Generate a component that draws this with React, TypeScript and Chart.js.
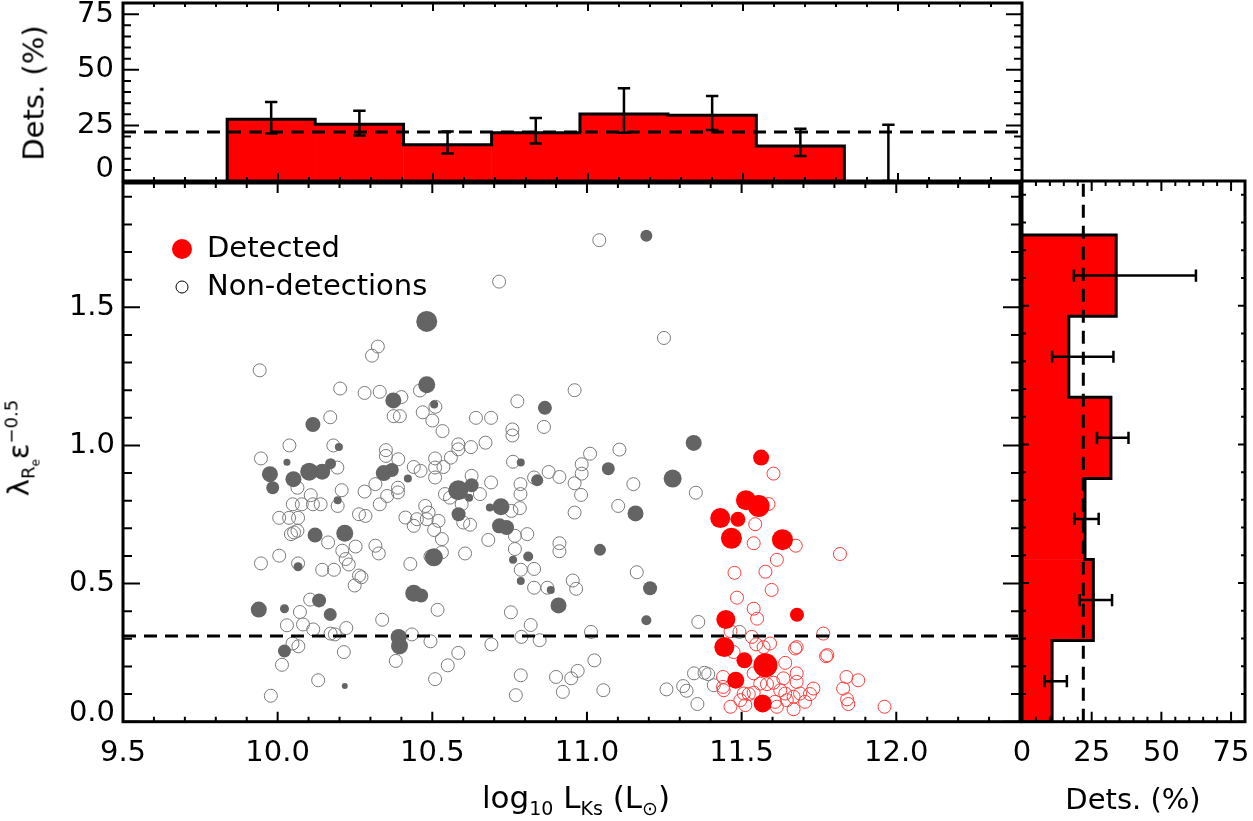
import React, { useEffect, useRef } from "react";
import { Chart, registerables } from "chart.js";

Chart.register(...registerables);

// ---------------- data ----------------
const lumRange = [9.5, 12.4];
const lambdaRange = [0, 1.95];
const pctRange = [0, 80];
const lumTicks = [9.5, 10.0, 10.5, 11.0, 11.5, 12.0];
const lambdaTicks = [0.0, 0.5, 1.0, 1.5];
const pctTicks = [0, 25, 50, 75];
const fastSlowDivide = 0.31;
const overallDetRate = 22;

// [log10 L_Ks, lambda_Re * eps^-0.5]
const nondetA3D: number[][] = [
  [10.716, 1.593], [11.04, 1.743], [10.324, 1.358], [10.305, 1.325], [9.942, 1.272], [10.202, 1.206],
  [10.281, 1.19], [10.33, 1.194], [10.4, 1.175], [10.46, 1.199], [10.51, 1.14], [10.469, 1.12],
  [10.375, 1.106], [10.395, 1.106], [10.5, 1.09], [10.533, 1.052], [10.17, 1.102], [10.038, 1.0],
  [10.18, 1.0], [9.946, 0.953], [10.193, 0.92], [10.207, 0.838], [10.064, 0.847], [10.107, 0.82],
  [10.049, 0.787], [10.078, 0.787], [10.114, 0.787], [10.139, 0.787], [10.005, 0.738], [10.037, 0.738],
  [10.066, 0.738], [10.194, 0.781], [10.281, 0.833], [10.316, 0.86], [10.33, 0.787], [10.354, 0.817],
  [10.35, 0.983], [10.35, 0.962], [10.39, 0.95], [10.389, 0.847], [10.389, 0.83], [10.44, 0.922],
  [10.462, 0.908], [10.509, 0.953], [10.509, 0.92], [10.509, 0.884], [10.536, 0.922], [10.56, 0.956],
  [10.584, 1.004], [10.584, 0.986], [10.625, 0.994], [10.672, 1.01], [10.641, 1.1], [10.69, 1.1],
  [10.775, 1.16], [10.759, 1.058], [10.759, 1.036], [10.861, 1.067], [10.96, 1.2], [11.01, 0.97],
  [10.983, 0.932], [10.983, 0.898], [10.96, 0.863], [10.981, 0.821], [10.96, 0.757], [10.911, 0.886],
  [10.876, 0.904], [10.761, 0.941], [10.829, 0.884], [10.785, 0.86], [10.785, 0.824], [10.69, 0.866],
  [10.654, 0.824], [10.541, 0.824], [10.557, 0.811], [10.595, 0.787], [10.627, 0.89], [10.756, 0.763],
  [10.783, 0.773], [10.477, 0.781], [10.488, 0.757], [10.45, 0.733], [10.482, 0.733], [10.263, 0.751],
  [10.284, 0.745], [10.413, 0.739], [10.043, 0.679], [10.053, 0.685], [10.064, 0.691], [10.163, 0.649],
  [9.946, 0.573], [10.005, 0.601], [10.066, 0.573], [10.144, 0.55], [10.182, 0.55], [10.209, 0.619],
  [10.22, 0.589], [10.23, 0.569], [10.252, 0.634], [10.263, 0.529], [10.271, 0.523], [10.249, 0.493],
  [10.316, 0.637], [10.327, 0.609], [10.44, 0.709], [10.506, 0.694], [10.52, 0.727], [10.531, 0.661],
  [10.429, 0.571], [10.494, 0.598], [10.531, 0.613], [10.606, 0.609], [10.6, 0.721], [10.622, 0.713],
  [10.681, 0.658], [10.767, 0.673], [10.767, 0.625], [10.807, 0.679], [10.786, 0.55], [10.829, 0.553],
  [10.829, 0.485], [10.872, 0.485], [10.911, 0.646], [10.911, 0.617], [10.954, 0.511], [10.965, 0.481],
  [10.105, 0.442], [10.072, 0.397], [10.03, 0.349], [10.082, 0.352], [10.115, 0.334], [10.171, 0.319],
  [10.185, 0.316], [10.222, 0.339], [10.517, 0.405], [10.338, 0.369], [10.434, 0.316], [10.494, 0.291],
  [10.382, 0.22], [10.048, 0.283], [10.067, 0.273], [10.014, 0.206], [10.214, 0.252], [10.131, 0.15],
  [9.978, 0.094], [10.584, 0.249], [10.55, 0.204], [10.509, 0.154], [10.754, 0.396], [10.818, 0.35],
  [10.788, 0.307], [10.847, 0.295], [10.691, 0.28], [10.786, 0.168], [10.77, 0.096], [10.9, 0.162],
  [10.949, 0.157], [10.97, 0.184], [10.922, 0.108], [11.013, 0.325], [11.024, 0.222], [11.249, 1.389],
  [11.105, 0.985], [11.15, 0.86], [11.352, 0.829], [11.101, 0.781], [11.161, 0.541], [11.36, 0.361],
  [11.053, 0.114], [11.257, 0.117], [11.311, 0.129], [11.322, 0.112], [11.346, 0.175], [11.38, 0.177],
  [11.392, 0.172], [11.357, 0.064], [11.41, 0.132], [11.493, 0.325],
];

const nondetMassive: number[][] = [
  [11.544, 0.715], [11.603, 0.898], [11.587, 0.788], [11.539, 0.646], [11.675, 0.637], [11.818, 0.607],
  [11.614, 0.586], [11.577, 0.543], [11.477, 0.539], [11.597, 0.477], [11.485, 0.449], [11.539, 0.409],
  [11.55, 0.373], [11.464, 0.328], [11.764, 0.319], [11.533, 0.307], [11.547, 0.28], [11.571, 0.27],
  [11.592, 0.283], [11.678, 0.27], [11.673, 0.265], [11.773, 0.237], [11.777, 0.241], [11.474, 0.252],
  [11.641, 0.213], [11.539, 0.175], [11.44, 0.162], [11.635, 0.157], [11.678, 0.175], [11.678, 0.144],
  [11.839, 0.162], [11.877, 0.15], [11.828, 0.12], [11.44, 0.126], [11.442, 0.114], [11.507, 0.102],
  [11.523, 0.1], [11.539, 0.105], [11.56, 0.138], [11.582, 0.136], [11.603, 0.141], [11.625, 0.114],
  [11.641, 0.102], [11.668, 0.09], [11.689, 0.102], [11.705, 0.072], [11.732, 0.12], [11.721, 0.1],
  [11.464, 0.054], [11.496, 0.078], [11.512, 0.06], [11.608, 0.072], [11.614, 0.054], [11.646, 0.078],
  [11.668, 0.045], [11.841, 0.081], [11.845, 0.064], [11.962, 0.054],
];

// [log10 L_Ks, lambda_Re * eps^-0.5, log M(H2)]
const detA3D: number[][] = [
  [10.482, 1.449, 10.0], [10.374, 1.163, 9.0], [10.482, 1.22, 9.2], [10.506, 1.148, 7.4], [10.114, 1.076, 8.8],
  [10.198, 0.994, 7.4], [10.03, 0.939, 7.2], [9.975, 0.896, 9.0], [9.984, 0.847, 8.4], [10.051, 0.878, 9.0],
  [10.102, 0.905, 9.4], [10.144, 0.905, 9.0], [10.171, 0.934, 8.0], [10.194, 0.802, 7.4], [10.343, 0.9, 9.0],
  [10.369, 0.911, 8.6], [10.421, 0.88, 7.4], [10.864, 1.136, 8.6], [10.839, 0.874, 8.2], [10.786, 0.938, 7.4],
  [10.584, 0.838, 9.8], [10.627, 0.856, 8.6], [10.619, 0.811, 7.4], [10.722, 0.778, 9.2], [10.686, 0.775, 7.4],
  [10.585, 0.751, 8.6], [10.121, 0.676, 8.8], [10.217, 0.682, 9.2], [10.066, 0.561, 7.6], [10.505, 0.595, 9.4],
  [10.717, 0.709, 8.8], [10.74, 0.703, 8.8], [10.761, 0.586, 7.4], [10.81, 0.598, 7.8], [10.786, 0.509, 7.4],
  [10.883, 0.477, 7.4], [10.908, 0.421, 9.0], [9.939, 0.406, 9.0], [10.022, 0.409, 7.6], [10.134, 0.439, 8.6],
  [10.17, 0.388, 8.4], [10.44, 0.465, 9.2], [10.464, 0.457, 8.6], [10.391, 0.307, 9.0], [10.394, 0.274, 9.2],
  [10.022, 0.256, 8.4], [10.217, 0.129, 7.0], [11.192, 1.759, 8.2], [11.345, 1.009, 9.0], [11.069, 0.916, 8.4],
  [11.277, 0.88, 9.4], [11.157, 0.754, 9.0], [11.042, 0.622, 8.2], [11.204, 0.483, 8.6], [11.192, 0.367, 7.8],
];

const detMassive: number[][] = [
  [11.563, 0.956, 9.0], [11.514, 0.802, 9.8], [11.555, 0.781, 10.2], [11.431, 0.737, 9.8], [11.488, 0.733, 8.8],
  [11.467, 0.664, 10.0], [11.632, 0.659, 10.0], [11.679, 0.387, 8.6], [11.449, 0.37, 9.6], [11.444, 0.27, 9.8],
  [11.509, 0.222, 9.0], [11.577, 0.204, 10.6], [11.481, 0.15, 9.2], [11.568, 0.066, 9.4],
];

// detection rate vs luminosity (top panel)
const lumBinEdges = [9.836, 10.12, 10.405, 10.689, 10.974, 11.258, 11.543, 11.827, 12.111];
const lumDetPct = [27.7, 25.5, 16.3, 21.7, 30.1, 29.5, 15.7, 0];
const lumErrLo = [21.3, 20.4, 12.4, 16.9, 21.7, 22.9, 11.2, 0];
const lumErrHi = [35.5, 31.6, 22.2, 28.3, 41.7, 38.2, 23.5, 25.3];

// detection rate vs lambda (right panel)
const lamBinEdges = [0, 0.2925, 0.585, 0.8775, 1.17, 1.4625, 1.755];
const lamDetPct = [10.8, 25.6, 22.6, 31.9, 16.8, 33.8];
const lamErrLo = [8.1, 20.7, 18.8, 26.9, 10.8, 18.6];
const lamErrHi = [16.1, 32.3, 27.5, 38.2, 32.8, 62.4];

// ---------------- styling ----------------
const TXT = "'DejaVu Sans', 'Liberation Sans', sans-serif";
const RED = "#ff0000";
const DARK = "#646464";
const GRAY_OPEN = "#7a7a7a";
const RED_OPEN = "#ff3a3a";
const DASH = [13, 8];
const markerRadius = (logM: number) => 3 + 2.5 * (logM - 7);

// plugin: box frame with inward IDL-style ticks
const framePlugin = {
  id: "frame",
  afterDraw(chart: any, _a: any, o: any) {
    const { ctx, chartArea: a } = chart;
    const xs = chart.scales.x;
    const ys = chart.scales.y;
    ctx.save();
    ctx.strokeStyle = "#000";
    ctx.lineWidth = 2;
    const drawTicks = (scale: any, major: number, minor: number, lens: number[], horiz: boolean) => {
      const k0 = Math.ceil(scale.min / minor - 1e-6);
      const k1 = Math.floor(scale.max / minor + 1e-6);
      const ratio = Math.round(major / minor);
      for (let k = k0; k <= k1; k++) {
        const p = scale.getPixelForValue(k * minor);
        const L = ((k % ratio) + ratio) % ratio === 0 ? lens[0] : lens[1];
        ctx.beginPath();
        if (horiz) {
          ctx.moveTo(p, a.bottom); ctx.lineTo(p, a.bottom - L);
          ctx.moveTo(p, a.top); ctx.lineTo(p, a.top + L);
        } else {
          ctx.moveTo(a.left, p); ctx.lineTo(a.left + L, p);
          ctx.moveTo(a.right, p); ctx.lineTo(a.right - L, p);
        }
        ctx.stroke();
      }
    };
    drawTicks(xs, o.xMajor, o.xMinor, o.xLen, true);
    drawTicks(ys, o.yMajor, o.yMinor, o.yLen, false);
    ctx.lineWidth = 3;
    ctx.strokeRect(a.left, a.top, a.right - a.left, a.bottom - a.top);
    ctx.restore();
  },
};

// plugin: legend inside the scatter panel
const legendPlugin = {
  id: "detLegend",
  afterDatasetsDraw(chart: any, _a: any, o: any) {
    const { ctx, chartArea: a } = chart;
    ctx.save();
    o.items.forEach((it: any, i: number) => {
      const cy = a.top + o.top + i * o.gap;
      ctx.beginPath();
      ctx.arc(a.left + o.markerLeft, cy, it.r, 0, Math.PI * 2);
      if (it.filled) {
        ctx.fillStyle = it.color;
        ctx.fill();
      } else {
        ctx.strokeStyle = it.color;
        ctx.lineWidth = 1;
        ctx.stroke();
      }
      ctx.fillStyle = "#000";
      ctx.font = o.font;
      ctx.textAlign = "left";
      ctx.textBaseline = "middle";
      ctx.fillText(it.text, a.left + o.textLeft, cy);
    });
    ctx.restore();
  },
};

const centers = (edges: number[]) => edges.slice(0, -1).map((e, i) => (e + edges[i + 1]) / 2);

function outlinePoints(edges: number[], vals: number[], horizontal: boolean) {
  const pts: any[] = [];
  const n = vals.filter((v) => v > 0).length;
  const push = (pos: number, v: number) => pts.push(horizontal ? { x: v, y: pos } : { x: pos, y: v });
  push(edges[0], 0);
  for (let i = 0; i < n; i++) {
    push(edges[i], vals[i]);
    push(edges[i + 1], vals[i]);
  }
  push(edges[n], 0);
  return pts;
}

function errorPoints(cs: number[], lo: number[], hi: number[], cap: number, horizontal: boolean) {
  const pts: any[] = [];
  const P = (pos: number, v: number) => (horizontal ? { x: v, y: pos } : { x: pos, y: v });
  const gap = { x: null, y: null };
  cs.forEach((c, i) => {
    pts.push(P(c, lo[i]), P(c, hi[i]), gap);
    pts.push(P(c - cap, hi[i]), P(c + cap, hi[i]), gap);
    pts.push(P(c - cap, lo[i]), P(c + cap, lo[i]), gap);
  });
  return pts;
}

const tickFont = { family: TXT, size: 29 };
const hiddenGrid = { display: false, drawTicks: false };

function topConfig(): any {
  const cs = centers(lumBinEdges);
  return {
    type: "bar",
    data: {
      datasets: [
        { type: "bar", data: cs.map((c, i) => ({ x: c, y: lumDetPct[i] })), backgroundColor: RED, borderWidth: 0, barPercentage: 1, categoryPercentage: 1, order: 3 },
        { type: "line", data: outlinePoints(lumBinEdges, lumDetPct, false), borderColor: "#000", borderWidth: 3, pointRadius: 0, fill: false, order: 2 },
        { type: "line", data: [{ x: lumRange[0], y: overallDetRate }, { x: lumRange[1], y: overallDetRate }], borderColor: "#000", borderWidth: 3, borderDash: DASH, pointRadius: 0, order: 1 },
        { type: "line", data: errorPoints(cs, lumErrLo, lumErrHi, 0.02, false), borderColor: "#000", borderWidth: 2.5, pointRadius: 0, spanGaps: false, order: 0 },
      ],
    },
    options: {
      animation: false, responsive: false, maintainAspectRatio: false, events: [],
      layout: { padding: { top: 3, right: 10, bottom: 10, left: 0 } },
      plugins: { legend: { display: false }, tooltip: { enabled: false },
        frame: { xMajor: 0.5, xMinor: 0.1, xLen: [8, 4], yMajor: 25, yMinor: 5, yLen: [16, 8] } },
      scales: {
        x: { type: "linear", min: lumRange[0], max: lumRange[1], offset: false, display: false, grid: { offset: false },
             afterBuildTicks: (s: any) => { s.ticks = lumTicks.map((v) => ({ value: v })); } },
        y: { type: "linear", min: pctRange[0], max: pctRange[1], offset: false, grid: hiddenGrid, border: { display: false },
             ticks: { autoSkip: false, font: { ...tickFont, lineHeight: 0.8 }, color: "#000", padding: 9, callback: (v: any) => (Number(v) === 0 ? ["0", ""] : String(v)) },
             afterBuildTicks: (s: any) => { s.ticks = pctTicks.map((v) => ({ value: v })); },
             afterFit: (s: any) => { s.width = 123; s.paddingTop = 0; s.paddingBottom = 0; } },
      },
    },
    plugins: [framePlugin],
  };
}

function mainConfig(): any {
  const pts = (arr: number[][]) => arr.map((d) => ({ x: d[0], y: d[1] }));
  return {
    type: "scatter",
    data: {
      datasets: [
        { label: "Non-detections", data: pts(nondetA3D), pointRadius: 6.5, pointBorderWidth: 1, pointBorderColor: GRAY_OPEN, pointBackgroundColor: "rgba(0,0,0,0)", order: 5 },
        { label: "Non-detections (high L)", data: pts(nondetMassive), pointRadius: 6.5, pointBorderWidth: 1, pointBorderColor: RED_OPEN, pointBackgroundColor: "rgba(0,0,0,0)", order: 4 },
        { label: "divide", data: [{ x: lumRange[0], y: fastSlowDivide }, { x: lumRange[1], y: fastSlowDivide }], showLine: true, borderColor: "#000", borderWidth: 3, borderDash: DASH, pointRadius: 0, order: 3 },
        { label: "Detected", data: pts(detA3D), pointRadius: detA3D.map((d) => markerRadius(d[2])), pointBorderWidth: 0, pointBackgroundColor: DARK, order: 2 },
        { label: "Detected (high L)", data: pts(detMassive), pointRadius: detMassive.map((d) => markerRadius(d[2])), pointBorderWidth: 0, pointBackgroundColor: RED, order: 1 },
      ],
    },
    options: {
      animation: false, responsive: false, maintainAspectRatio: false, events: [],
      layout: { padding: { top: 10, right: 10, bottom: 0, left: 0 } },
      plugins: {
        legend: { display: false }, tooltip: { enabled: false },
        frame: { xMajor: 0.5, xMinor: 0.1, xLen: [10, 5], yMajor: 0.5, yMinor: 0.1, yLen: [17, 9] },
        detLegend: {
          markerLeft: 59, textLeft: 84, top: 66, gap: 38, font: `29px ${TXT}`,
          items: [
            { text: "Detected", color: RED, filled: true, r: 10 },
            { text: "Non-detections", color: "#000", filled: false, r: 6 },
          ],
        },
      },
      scales: {
        x: { type: "linear", min: lumRange[0], max: lumRange[1], grid: hiddenGrid, border: { display: false },
             ticks: { font: tickFont, color: "#000", padding: 14, maxRotation: 0, autoSkip: false, callback: (v: any) => Number(v).toFixed(1) },
             afterBuildTicks: (s: any) => { s.ticks = lumTicks.map((v) => ({ value: v })); },
             afterFit: (s: any) => { s.height = 99.3; s.paddingLeft = 0; s.paddingRight = 0; } },
        y: { type: "linear", min: lambdaRange[0], max: lambdaRange[1], grid: hiddenGrid, border: { display: false },
             ticks: { autoSkip: false, font: { ...tickFont, lineHeight: 0.6 }, color: "#000", padding: 8, callback: (v: any) => (Number(v) === 0 ? ["0.0", ""] : Number(v).toFixed(1)) },
             afterBuildTicks: (s: any) => { s.ticks = lambdaTicks.map((v) => ({ value: v })); },
             afterFit: (s: any) => { s.width = 123; s.paddingTop = 0; s.paddingBottom = 0; } },
      },
    },
    plugins: [framePlugin, legendPlugin],
  };
}

function rightConfig(): any {
  const cs = centers(lamBinEdges);
  return {
    type: "bar",
    data: {
      datasets: [
        { type: "bar", data: cs.map((c, i) => ({ x: lamDetPct[i], y: c })), backgroundColor: RED, borderWidth: 0, barPercentage: 1, categoryPercentage: 1, order: 3 },
        { type: "line", data: outlinePoints(lamBinEdges, lamDetPct, true), borderColor: "#000", borderWidth: 3, pointRadius: 0, fill: false, order: 2 },
        { type: "line", data: [{ x: overallDetRate, y: lambdaRange[0] }, { x: overallDetRate, y: lambdaRange[1] }], borderColor: "#000", borderWidth: 3, borderDash: DASH, pointRadius: 0, order: 1 },
        { type: "line", data: errorPoints(cs, lamErrLo, lamErrHi, 0.022, true), borderColor: "#000", borderWidth: 2.5, pointRadius: 0, spanGaps: false, order: 0 },
      ],
    },
    options: {
      indexAxis: "y",
      animation: false, responsive: false, maintainAspectRatio: false, events: [],
      layout: { padding: { top: 10, right: 8, bottom: 0, left: 10 } },
      plugins: { legend: { display: false }, tooltip: { enabled: false },
        frame: { xMajor: 25, xMinor: 5, xLen: [10, 5], yMajor: 0.5, yMinor: 0.1, yLen: [7, 4] } },
      scales: {
        x: { type: "linear", min: pctRange[0], max: pctRange[1], offset: false, grid: hiddenGrid, border: { display: false },
             ticks: { font: tickFont, color: "#000", padding: 14, maxRotation: 0, autoSkip: false, callback: (v: any) => String(v) },
             afterBuildTicks: (s: any) => { s.ticks = pctTicks.map((v) => ({ value: v })); },
             afterFit: (s: any) => { s.height = 99.3; s.paddingLeft = 0; s.paddingRight = 0; } },
        y: { type: "linear", min: lambdaRange[0], max: lambdaRange[1], offset: false, display: false, grid: { offset: false },
             afterBuildTicks: (s: any) => { s.ticks = lambdaTicks.map((v) => ({ value: v })); } },
      },
    },
    plugins: [framePlugin],
  };
}

const abs = (extra: any): any => ({ position: "absolute", whiteSpace: "nowrap", lineHeight: 1, color: "#000", fontFamily: TXT, ...extra });

export default function App() {
  const topRef = useRef<HTMLCanvasElement>(null);
  const mainRef = useRef<HTMLCanvasElement>(null);
  const rightRef = useRef<HTMLCanvasElement>(null);

  useEffect(() => {
    const charts = [
      new Chart(topRef.current as HTMLCanvasElement, topConfig()),
      new Chart(mainRef.current as HTMLCanvasElement, mainConfig()),
      new Chart(rightRef.current as HTMLCanvasElement, rightConfig()),
    ];
    return () => charts.forEach((c) => c.destroy());
  }, []);

  return (
    <div style={{ position: "absolute", left: 0, top: 0, width: 1253, height: 821, background: "#fff", overflow: "hidden" }}>
      <canvas ref={topRef} width={1032} height={191} style={{ position: "absolute", left: 0, top: 0 }} />
      <canvas ref={mainRef} width={1032} height={650} style={{ position: "absolute", left: 0, top: 171 }} />
      <canvas ref={rightRef} width={241} height={650} style={{ position: "absolute", left: 1012, top: 171 }} />
      <div style={abs({ left: 576, top: 800, fontSize: 31, transform: "translate(-50%, -50%)" })}>
        log<sub style={{ fontSize: 19 }}>10</sub> L<sub style={{ fontSize: 19 }}>Ks</sub> (L<sub style={{ fontSize: 19 }}>⊙</sub>)
      </div>
      <div style={abs({ left: 1133, top: 799, fontSize: 29, transform: "translate(-50%, -50%)" })}>Dets. (%)</div>
      <div style={abs({ left: 34, top: 93, fontSize: 29, transform: "translate(-50%, -50%) rotate(-90deg)" })}>Dets. (%)</div>
      <div style={abs({ left: 22, top: 448, fontSize: 29, transform: "translate(-50%, -50%) rotate(-90deg)" })}>
        λ<sub style={{ fontSize: 18 }}>R<sub style={{ fontSize: 12 }}>e</sub></sub>ε<sup style={{ fontSize: 18 }}>−0.5</sup>
      </div>
    </div>
  );
}
